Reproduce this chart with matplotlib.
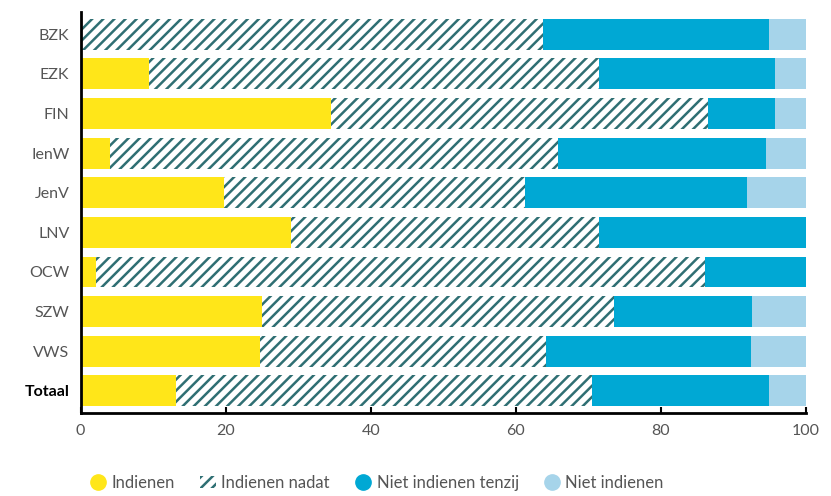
import matplotlib.pyplot as plt
import numpy as np
from matplotlib.lines import Line2D
from matplotlib.patches import Patch

plt.rcParams['font.family'] = ['Lato', 'DejaVu Sans']
plt.rcParams['hatch.linewidth'] = 1.8

# DATA.
categories = ["BZK", "EZK", "FIN", "IenW", "JenV", "LNV", "OCW", "SZW", "VWS", "Totaal"]
indienen = [0.0, 9.4, 34.5, 4.1, 19.7, 29.0, 2.1, 25.0, 24.7, 13.1]
indienen_nadat = [63.7, 62.0, 52.0, 61.7, 41.5, 42.4, 84.0, 48.5, 39.4, 57.4]
niet_tenzij = [31.2, 24.3, 9.2, 28.7, 30.7, 28.6, 13.9, 19.1, 28.3, 24.4]
niet_indienen = [5.1, 4.3, 4.3, 5.5, 8.1, 0.0, 0.0, 7.4, 7.6, 5.1]
series_labels = ["Indienen", "Indienen nadat", "Niet indienen tenzij", "Niet indienen"]

YELLOW = "#FFE619"
TEAL = "#2F6F73"
BLUE = "#00A8D4"
LIGHT = "#A6D4EA"
GREY = "#555555"

fig, ax = plt.subplots(figsize=(8.31, 4.96), dpi=100)
fig.subplots_adjust(left=0.097, right=0.97, top=0.975, bottom=0.168)

y = np.arange(len(categories))
h = 0.78
left = np.zeros(len(categories))

ax.barh(y, indienen, h, left=left, color=YELLOW, lw=0)
left += indienen
ax.barh(y, indienen_nadat, h, left=left, facecolor="white", edgecolor=TEAL, hatch="///", lw=0)
left += indienen_nadat
ax.barh(y, niet_tenzij, h, left=left, color=BLUE, lw=0)
left += niet_tenzij
ax.barh(y, niet_indienen, h, left=left, color=LIGHT, lw=0)

ax.set_yticks(y)
ax.set_yticklabels(categories, fontsize=11.5, color=GREY)
ax.get_yticklabels()[-1].set_fontweight("bold")
ax.get_yticklabels()[-1].set_color("black")
ax.set_ylim(len(categories) - 0.5 + 0.05, -0.5 - 0.05)
ax.set_xlim(0, 100)
ax.set_xticks([0, 20, 40, 60, 80, 100])
ax.tick_params(axis="x", labelsize=11.5, labelcolor=GREY, length=4, width=1.5, color="black", pad=8, direction="in")
ax.tick_params(axis="y", length=0, pad=8)

for s in ["top", "right"]:
    ax.spines[s].set_visible(False)
ax.spines["left"].set_linewidth(2)
ax.spines["bottom"].set_linewidth(2)

handles = [
    Line2D([], [], ls="", marker="o", ms=11, mfc=YELLOW, mec=YELLOW),
    Patch(facecolor="white", edgecolor=TEAL, hatch="///", lw=0),
    Line2D([], [], ls="", marker="o", ms=11, mfc=BLUE, mec=BLUE),
    Line2D([], [], ls="", marker="o", ms=11, mfc=LIGHT, mec=LIGHT),
]
leg = fig.legend(handles, series_labels, loc="lower left", bbox_to_anchor=(0.09, -0.02), ncol=4,
                 frameon=False, fontsize=12, handlelength=1.0, handletextpad=0.3, columnspacing=1.5,
                 labelcolor=GREY)

plt.savefig("out.png", dpi=100)
